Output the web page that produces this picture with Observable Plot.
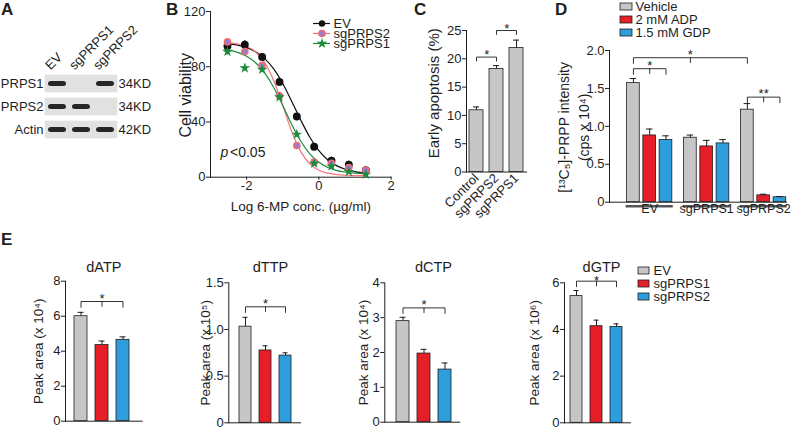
<!DOCTYPE html>
<html>
<head>
<meta charset="utf-8">
<script src="https://cdn.jsdelivr.net/npm/d3@7"></script>
<script src="https://cdn.jsdelivr.net/npm/@observablehq/plot@0.6"></script>
<style>
html,body{margin:0;padding:0;background:#fff;}
#fig{position:relative;width:800px;height:429px;overflow:hidden;background:#fff;font-family:Arial,"Liberation Sans",Helvetica,sans-serif;color:#1e1e1e;}
.plab{position:absolute;font-weight:bold;font-size:17px;line-height:17px;}
</style>
</head>
<body>
<div id="fig"></div>
<script>
// ================= DATA =================
// A: western blot
const blotLanes = ["EV", "sgPRPS1", "sgPRPS2"];
const blotProteins = ["PRPS1", "PRPS2", "Actin"];
const blotSizes = ["34KD", "34KD", "42KD"];
const bandPRPS1 = [1, 0, 1];
const bandPRPS2 = [1, 1, 0];
const bandActin = [1, 1, 1];

// B: dose response
const seriesB = ["EV", "sgPRPS2", "sgPRPS1"];
const logDose = [-2.53, -2.05, -1.57, -1.09, -0.61, -0.13, 0.35, 0.83, 1.30];
const viabEV  = [95, 96, 87, 69, 44, 22, 12, 9, 5];
const viabSg2 = [98, 91, 81, 59, 23, 11, 10, 7, 5];
const viabSg1 = [91, 79, 78, 58, 31, 10, 8, 4, 2];
const errEV  = [2.5, 3, 2.5, 3, 1.5, 2, 2.5, 2.5, 2];
const errSg2 = [2, 2, 2, 2, 1.5, 1.5, 1.5, 1.5, 1.5];
const errSg1 = [2.5, 2, 2, 2, 2, 1.5, 1.5, 1.5, 1.5];
const fitDose = [-2.6, -2.25, -2, -1.75, -1.5, -1.25, -1, -0.75, -0.5, -0.25, 0, 0.25, 0.5, 0.75, 1, 1.35];
const fitEV  = [96.9, 95.6, 93.8, 90.8, 85.9, 78.4, 67.9, 54.9, 41.3, 28.9, 19.2, 12.5, 8.2, 5.6, 4.1, 2.9];
const fitSg2 = [97.5, 96.5, 94.6, 90.7, 83.1, 70.0, 51.8, 33.0, 18.5, 9.7, 5.1, 2.9, 1.8, 1.4, 1.2, 1.1];
const fitSg1 = [92.4, 90.4, 87.6, 82.9, 75.5, 65.0, 51.9, 38.1, 26.0, 16.9, 10.8, 7.0, 4.8, 3.6, 2.9, 2.4];

// C: early apoptosis
const groupsC = ["Control", "sgPRPS2", "sgPRPS1"];
const apoptosis = [10.9, 18.2, 21.9];
const apoptosisErr = [0.6, 0.6, 1.4];
const sigC = [
  {bars: ["Control", "sgPRPS2"], level: 20.3, label: "*"},
  {bars: ["sgPRPS2", "sgPRPS1"], level: 25.0, label: "*"}
];

// D: 13C5-PRPP
const groupsD = ["EV", "sgPRPS1", "sgPRPS2"];
const treatD = ["Vehicle", "2 mM ADP", "1.5 mM GDP"];
const prppEV  = [1.57, 0.88, 0.82];
const prppSg1 = [0.85, 0.735, 0.775];
const prppSg2 = [1.22, 0.09, 0.065];
const prppErrEV  = [0.06, 0.085, 0.055];
const prppErrSg1 = [0.035, 0.08, 0.05];
const prppErrSg2 = [0.08, 0.015, 0.01];
const sigD = [
  {bars: [["EV", "Vehicle"], ["EV", "2 mM ADP"], ["EV", "1.5 mM GDP"]], level: 1.76, label: "*"},
  {bars: [["EV", "Vehicle"], ["sgPRPS1", "Vehicle"], ["sgPRPS2", "Vehicle"]], level: 1.905, label: "*"},
  {bars: [["sgPRPS2", "Vehicle"], ["sgPRPS2", "2 mM ADP"], ["sgPRPS2", "1.5 mM GDP"]], level: 1.385, label: "**"}
];

// E: dNTP pools
const genotypes = ["EV", "sgPRPS1", "sgPRPS2"];
const nucleotides = ["dATP", "dTTP", "dCTP", "dGTP"];
const peakExp = ["⁴", "⁵", "⁴", "⁶"];
const dATP = [6.0, 4.35, 4.65], dATPerr = [0.22, 0.23, 0.17];
const dTTP = [1.03, 0.775, 0.72], dTTPerr = [0.10, 0.05, 0.03];
const dCTP = [2.9, 1.97, 1.51], dCTPerr = [0.11, 0.12, 0.19];
const dGTP = [5.43, 4.14, 4.11], dGTPerr = [0.24, 0.26, 0.13];
const yTicksE = [[0, 2, 4, 6, 8], [0, 0.5, 1, 1.5], [0, 1, 2, 3, 4], [0, 2, 4, 6]];
const sigLevelE = [6.84, 1.243, 3.28, 6.07];

// ================= STYLE / LAYOUT =================
const FONT = "Arial, 'Liberation Sans', Helvetica, sans-serif";
const INK = "#1e1e1e";
const GRAY = "#c6c6c6", RED = "#e61e28", BLUE = "#2d9ddc";
const lineColB = ["#111111", "#f2737b", "#1d8b3c"];
const fig = document.getElementById("fig");
function place(node, left, top) {
  node.style.position = "absolute";
  node.style.left = left + "px";
  node.style.top = top + "px";
  fig.appendChild(node);
}
function styled(opts, fs = 13) {
  return {...opts, style: {fontFamily: FONT, fontSize: fs + "px", color: INK, background: "transparent", overflow: "visible"}};
}
function bracketMarks(sig, xOf, drop, dyLabel, dxLabel = 0) {
  const path = [], mids = [], labels = [];
  sig.forEach((s, k) => {
    const a = xOf(s.bars[0]), b = xOf(s.bars[s.bars.length - 1]);
    path.push({k, x: a, y: s.level - drop}, {k, x: a, y: s.level}, {k, x: b, y: s.level}, {k, x: b, y: s.level - drop});
    if (s.bars.length > 2) mids.push({x: xOf(s.bars[1]), y: s.level});
    labels.push({x: s.bars.length > 2 ? xOf(s.bars[1]) : a, y: s.level, text: s.label});
  });
  return [
    Plot.line(path, {x: "x", y: "y", z: "k", stroke: INK, strokeWidth: 0.9}),
    Plot.ruleX(mids, {x: "x", y1: "y", y2: d => d.y - drop, stroke: INK, strokeWidth: 0.9}),
    Plot.text(labels, {x: "x", y: "y", text: "text", lineAnchor: "bottom", dx: dxLabel, dy: dyLabel, fontSize: 13})
  ];
}
const yTitle = (t, dx, dy, fs, extra = {}) =>
  Plot.text([t], {frameAnchor: "left", textAnchor: "middle", rotate: -90, dx, dy, fontSize: fs, ...extra});

// panel letters
[["A", 1, 1], ["B", 166, 1], ["C", 414, 1], ["D", 555, 1], ["E", 1, 231]].forEach(([t, x, y]) => {
  const d = document.createElement("div"); d.className = "plab"; d.textContent = t;
  d.style.left = x + "px"; d.style.top = y + "px"; fig.appendChild(d);
});

// ================= A =================
{
  const rows = [bandPRPS1, bandPRPS2, bandActin];
  const cells = blotProteins.flatMap((p, r) => blotLanes.map((l, c) => ({p, l, on: rows[r][c]})));
  place(Plot.plot(styled({
    width: 170, height: 150, marginLeft: 45, marginRight: 53, marginTop: 71, marginBottom: 8,
    x: {domain: blotLanes, padding: 0, axis: null},
    y: {domain: blotProteins, paddingInner: 0.24, paddingOuter: 0.1},
    marks: [
      Plot.cell(cells, {x: "l", y: "p", fill: "#e1e1e1", stroke: "#e1e1e1", strokeWidth: 0.6, inset: 0}),
      Plot.cell(cells.filter(d => d.on), {x: "l", y: "p", fill: "#262626", insetLeft: 3, insetRight: 3, insetTop: 6, insetBottom: 6, rx: 3}),
      Plot.axisY({anchor: "left", tickSize: 0, tickPadding: 2, label: null}),
      Plot.text(blotProteins, {y: d => d, text: (d, i) => blotSizes[i], frameAnchor: "right", textAnchor: "start", dx: 1}),
      Plot.text(blotLanes, {x: d => d, text: d => d, frameAnchor: "top", rotate: -45, textAnchor: "start", lineAnchor: "bottom", dx: -7, dy: -1})
    ]
  })), 0, 0);
}

// ================= B =================
{
  const vals = [viabEV, viabSg2, viabSg1], errs = [errEV, errSg2, errSg1], fits = [fitEV, fitSg2, fitSg1];
  const pts = seriesB.flatMap((s, k) => logDose.map((x, i) => ({s, x, v: vals[k][i], e: errs[k][i]})));
  const fit = seriesB.flatMap((s, k) => fitDose.map((x, i) => ({s, x, v: fits[k][i]})));
  const of = s => pts.filter(d => d.s === s);
  place(Plot.plot(styled({
    width: 270, height: 220, marginLeft: 80, marginRight: 9.4, marginTop: 11, marginBottom: 43.3,
    x: {domain: [-3, 2]}, y: {domain: [0, 120]},
    color: {domain: seriesB, range: lineColB},
    marks: [
      Plot.frame({anchor: "left", stroke: INK}),
      Plot.frame({anchor: "bottom", stroke: INK}),
      Plot.axisY({ticks: [0, 40, 80, 120], tickFormat: d => String(d), tickSize: 4, tickPadding: 1, label: null}),
      Plot.axisX({ticks: [-2, 0, 2], tickFormat: d => String(d), tickSize: 3, tickPadding: 1, label: null}),
      Plot.line(fit, {x: "x", y: "v", z: "s", stroke: "s", strokeWidth: 1.2, curve: "monotone-x"}),
      Plot.ruleX(pts, {x: "x", y1: d => d.v - d.e, y2: d => d.v + d.e, stroke: "s", strokeWidth: 1}),
      Plot.dot(of("EV"), {x: "x", y: "v", r: 3.2, fill: "#111", stroke: "#111"}),
      Plot.dot(of("sgPRPS2"), {x: "x", y: "v", r: 3, fill: "#8c80d8", stroke: "#f06a74", strokeWidth: 1.6}),
      Plot.dot(of("sgPRPS1"), {x: "x", y: "v", r: 3.4, symbol: "star", fill: "#1d8b3c", stroke: "none"}),
      Plot.text(["Log 6-MP conc. (µg/ml)"], {frameAnchor: "bottom", lineAnchor: "bottom", dy: 34, fontSize: 13.5}),
      yTitle("Cell viability", -25, 1, 16),
      Plot.text(["p"], {frameAnchor: "bottom-left", textAnchor: "start", lineAnchor: "bottom", dx: 10, dy: -20, fontSize: 14, fontStyle: "italic"}),
      Plot.text(["<0.05"], {frameAnchor: "bottom-left", textAnchor: "start", lineAnchor: "bottom", dx: 19.5, dy: -20, fontSize: 14})
    ]
  })), 130, 0);

  // legend B
  place(Plot.plot(styled({
    width: 80, height: 50, marginLeft: 0, marginRight: 63, marginTop: 22.5, marginBottom: 6.2,
    x: {domain: [0, 1], axis: null},
    y: {type: "point", domain: seriesB, padding: 0},
    color: {domain: seriesB, range: lineColB},
    marks: [
      Plot.ruleY(seriesB, {y: d => d, stroke: d => d, strokeWidth: 1.2}),
      Plot.dot(["EV"], {y: d => d, r: 3.2, fill: "#111", frameAnchor: "middle"}),
      Plot.dot(["sgPRPS2"], {y: d => d, r: 3, fill: "#8c80d8", stroke: "#f06a74", strokeWidth: 1.6, frameAnchor: "middle"}),
      Plot.dot(["sgPRPS1"], {y: d => d, r: 3.4, symbol: "star", fill: "#1d8b3c", frameAnchor: "middle"}),
      Plot.axisY({anchor: "right", tickSize: 0, tickPadding: 3, label: null})
    ]
  }), 12), 313, 0);
}

// ================= C =================
{
  const data = groupsC.map((g, i) => ({g, v: apoptosis[i], e: apoptosisErr[i]}));
  place(Plot.plot(styled({
    width: 170, height: 230, marginLeft: 106, marginRight: 4, marginTop: 30, marginBottom: 58.5,
    x: {domain: groupsC, paddingInner: 0.32, paddingOuter: 0.12},
    y: {domain: [0, 25]},
    marks: [
      Plot.barY(data, {x: "g", y: "v", fill: GRAY, stroke: INK, strokeWidth: 0.8}),
      Plot.ruleX(data, {x: "g", y1: "v", y2: d => d.v + d.e, stroke: INK}),
      Plot.tickY(data, {x: "g", y: d => d.v + d.e, insetLeft: 4, insetRight: 4, stroke: INK}),
      Plot.frame({anchor: "left", stroke: INK}),
      Plot.frame({anchor: "bottom", stroke: INK}),
      Plot.axisY({ticks: [0, 5, 10, 15, 20, 25], tickFormat: d => String(d), tickSize: 4, tickPadding: 1, label: null}),
      Plot.axisX({tickSize: 0, tickPadding: 4, tickRotate: -45, label: null}),
      yTitle("Early apoptosis (%)", -32, -8, 15),
      ...bracketMarks(sigC, d => d, 0.7, 2, 10.3)
    ]
  })), 360, 0);
}

// ================= D =================
{
  const vals = [prppEV, prppSg1, prppSg2], errs = [prppErrEV, prppErrSg1, prppErrSg2];
  // layout index: three bars per group with a gap between groups
  const posD = (gi, ti) => gi * 3.5 + ti;
  const posOf = ([g, t]) => posD(groupsD.indexOf(g), treatD.indexOf(t));
  const data = groupsD.flatMap((g, gi) => treatD.map((t, ti) => ({g, t, x: posD(gi, ti), v: vals[gi][ti], e: errs[gi][ti]})));
  place(Plot.plot(styled({
    width: 320, height: 225, marginLeft: 129, marginRight: 10, marginTop: 50, marginBottom: 23.3,
    x: {domain: [-1.47, 9.65], axis: null},
    y: {domain: [0, 2]},
    color: {domain: treatD, range: [GRAY, RED, BLUE]},
    marks: [
      Plot.rectY(data, {x1: d => d.x - 0.39, x2: d => d.x + 0.39, y1: 0, y2: "v", fill: "t", stroke: INK, strokeWidth: 0.8}),
      Plot.ruleX(data, {x: "x", y1: "v", y2: d => d.v + d.e, stroke: INK}),
      Plot.ruleY(data, {y: d => d.v + d.e, x1: d => d.x - 0.2, x2: d => d.x + 0.2, stroke: INK}),
      Plot.frame({anchor: "left", stroke: INK}),
      Plot.ruleY([0], {stroke: INK, insetRight: 3}),
      Plot.ruleY(groupsD, {y: () => 0, x1: (g, i) => posD(i, 0) - 0.45, x2: (g, i) => posD(i, 2) + 0.45, dy: 4, stroke: "#555", strokeWidth: 2.4}),
      Plot.text(groupsD, {x: (g, i) => posD(i, 1), text: d => d, frameAnchor: "bottom", dy: 10.5, fontSize: 12.5}),
      Plot.axisY({ticks: [0, 0.5, 1, 1.5, 2], tickFormat: d => d === 0 ? "0" : d.toFixed(1), tickSize: 4, tickPadding: 1, label: null}),
      yTitle("[¹³C₅]-PRPP intensity\n(cps x 10⁴)", -37, 1, 14, {lineHeight: 1.45}),
      ...bracketMarks(sigD, posOf, 0.075, 1)
    ]
  })), 480, 0);

  // legend D
  place(Plot.plot(styled({
    width: 120, height: 39, marginLeft: 0, marginRight: 108, marginTop: 0, marginBottom: 0,
    y: {domain: treatD, paddingInner: 0.46, paddingOuter: 0.23},
    color: {domain: treatD, range: [GRAY, RED, BLUE]},
    marks: [
      Plot.cell(treatD, {y: d => d, fill: d => d, stroke: INK, strokeWidth: 0.8}),
      Plot.axisY({anchor: "right", tickSize: 0, tickPadding: 3, label: null})
    ]
  }), 14), 620, 0);
}

// ================= E =================
{
  const valsE = [dATP, dTTP, dCTP, dGTP], errsE = [dATPerr, dTTPerr, dCTPerr, dGTPerr];
  const boxes = [
    {left: 0,   w: 150, ml: 65,   mr: 8.3, mt: 31.7, mb: 7.3, po: 0.49, al: 0.43, tdx: 0,    ydx: -26.7, drop: 0.33, sdy: 1},
    {left: 150, w: 155, ml: 78.3, mr: 5,   mt: 33.3, mb: 5.7, po: 0.41, al: 0.58, tdx: 5.8,  ydx: -23.3, drop: 0.06, sdy: 1},
    {left: 330, w: 135, ml: 54.3, mr: 5.7, mt: 33.3, mb: 6.3, po: 0.47, al: 0.57, tdx: 11.2, ydx: -21,   drop: 0.16, sdy: 1},
    {left: 500, w: 135, ml: 64,   mr: 5,   mt: 33.3, mb: 5.7, po: 0.31, al: 0.42, tdx: 4,    ydx: -30,   drop: 0.24, sdy: 3.5}
  ];
  nucleotides.forEach((n, k) => {
    const b = boxes[k];
    const data = genotypes.map((g, i) => ({g, v: valsE[k][i], e: errsE[k][i]}));
    const ticks = yTicksE[k];
    const fmt = k === 1 ? (d => d === 0 ? "0" : d.toFixed(1)) : (d => String(d));
    place(Plot.plot(styled({
      width: b.w, height: 179, marginLeft: b.ml, marginRight: b.mr, marginTop: b.mt, marginBottom: b.mb,
      x: {domain: genotypes, paddingInner: 0.38, paddingOuter: b.po, align: b.al, axis: null},
      y: {domain: [0, ticks[ticks.length - 1]]},
      color: {domain: genotypes, range: [GRAY, RED, BLUE]},
      marks: [
        Plot.barY(data, {x: "g", y: "v", fill: "g", stroke: INK, strokeWidth: 0.8}),
        Plot.ruleX(data, {x: "g", y1: "v", y2: d => d.v + d.e, stroke: INK}),
        Plot.tickY(data, {x: "g", y: d => d.v + d.e, insetLeft: 3.5, insetRight: 3.5, stroke: INK}),
        Plot.frame({anchor: "left", stroke: INK}),
        Plot.frame({anchor: "bottom", stroke: INK}),
        Plot.axisY({ticks, tickFormat: fmt, tickSize: 4, tickPadding: 1, label: null}),
        Plot.text([n], {frameAnchor: "top", dx: b.tdx, dy: 12.5 - b.mt, fontSize: 14.5}),
        yTitle(`Peak area (x 10${peakExp[k]})`, b.ydx, 0, 13.5),
        ...bracketMarks([{bars: genotypes, level: sigLevelE[k], label: "*"}], d => d, b.drop, b.sdy)
      ]
    })), b.left, 249);
  });

  // legend E
  place(Plot.plot(styled({
    width: 100, height: 39.75, marginLeft: 0, marginRight: 89, marginTop: 0, marginBottom: 0,
    y: {domain: genotypes, paddingInner: 0.5, paddingOuter: 0.25},
    color: {domain: genotypes, range: [GRAY, RED, BLUE]},
    marks: [
      Plot.cell(genotypes, {y: d => d, fill: d => d, stroke: INK, strokeWidth: 0.8}),
      Plot.axisY({anchor: "right", tickSize: 0, tickPadding: 4, label: null})
    ]
  }), 13.5), 638, 262.9);
}
</script>
</body>
</html>
